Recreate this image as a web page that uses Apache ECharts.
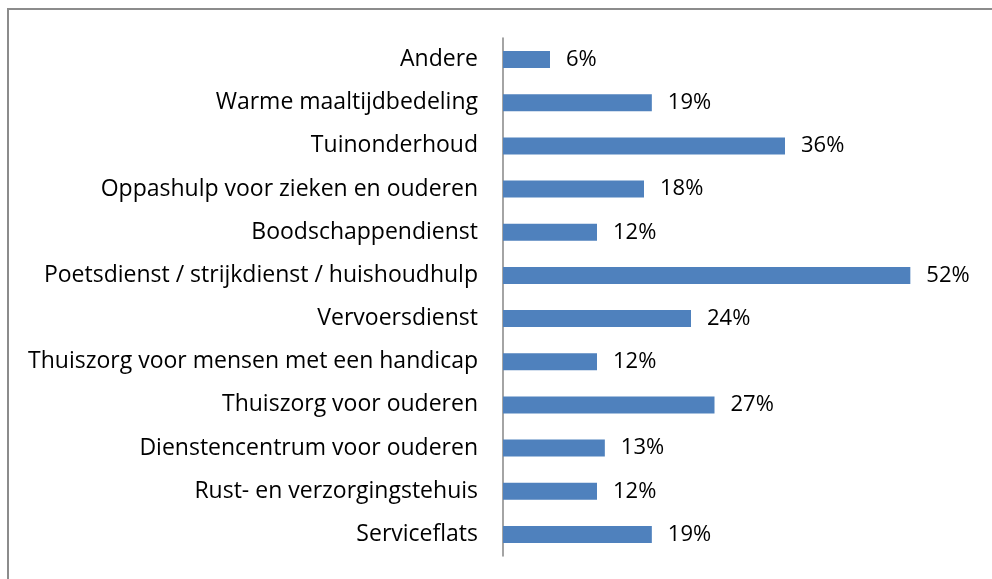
<!DOCTYPE html>
<html>
<head>
<meta charset="utf-8">
<script src="https://cdn.jsdelivr.net/npm/echarts@6/dist/echarts.min.js"></script>
<style>
  html, body { margin: 0; padding: 0; background: #fff; }
  #chart { width: 992px; height: 579px; }
</style>
</head>
<body>
<div id="chart"></div>
<script>
// categories from bottom to top, as the y axis draws them
const categories = [
  'Serviceflats',
  'Rust- en verzorgingstehuis',
  'Dienstencentrum voor ouderen',
  'Thuiszorg voor ouderen',
  'Thuiszorg voor mensen met een handicap',
  'Vervoersdienst',
  'Poetsdienst / strijkdienst / huishoudhulp',
  'Boodschappendienst',
  'Oppashulp voor zieken en ouderen',
  'Tuinonderhoud',
  'Warme maaltijdbedeling',
  'Andere'
];
const percentages = [19, 12, 13, 27, 12, 24, 52, 12, 18, 36, 19, 6];

const chart = echarts.init(document.getElementById('chart'));

chart.setOption({
  animation: false,
  textStyle: { fontFamily: 'Open Sans' },
  graphic: [{
    type: 'rect',
    shape: { x: 8, y: 9, width: 1100, height: 700 },
    style: { fill: 'none', stroke: '#8c8c8c', lineWidth: 2 }
  }],
  grid: { left: 503, right: 19, top: 38, bottom: 23 },
  xAxis: {
    type: 'value',
    min: 0,
    max: 60,
    show: false
  },
  yAxis: {
    type: 'category',
    data: categories,
    axisLine: { lineStyle: { color: '#868686', width: 1.5 } },
    axisTick: { show: false },
    axisLabel: { color: '#000', fontSize: 23, margin: 25 }
  },
  series: [{
    type: 'bar',
    data: percentages,
    barWidth: 17,
    itemStyle: { color: '#4f81bd' },
    label: {
      show: true,
      position: 'right',
      distance: 16,
      formatter: '{c}%',
      color: '#000',
      fontSize: 22
    }
  }]
});
</script>
</body>
</html>
